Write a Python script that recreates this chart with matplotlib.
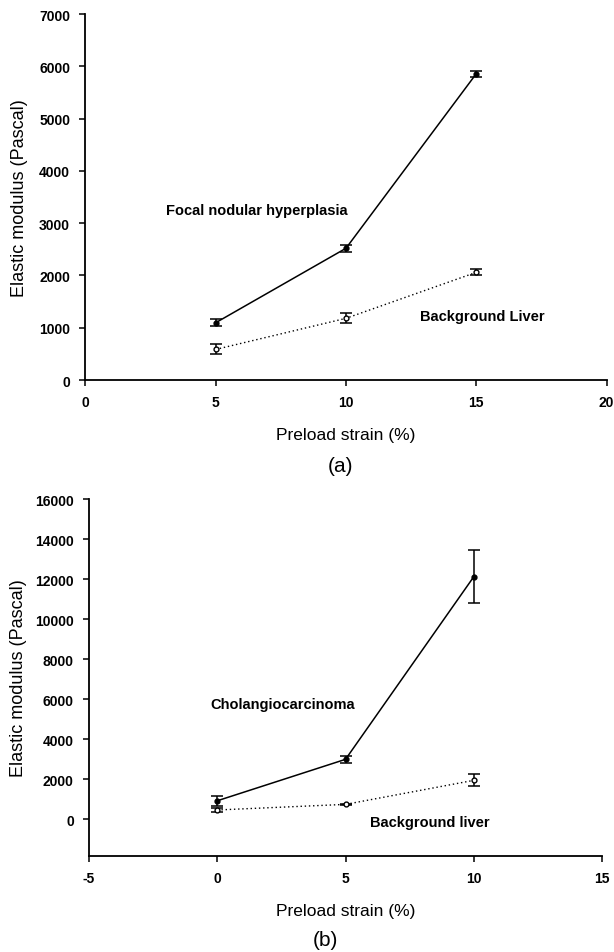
import numpy as np
import matplotlib.pyplot as plt

plt.rcParams['font.family'] = ['Liberation Sans', 'DejaVu Sans']

# panel (a)
strain_a = [5, 10, 15]
fnh = [1095, 2520, 5860]
fnh_err = [65, 70, 55]
liver_a = [585, 1180, 2060]
liver_a_err = [95, 95, 55]

# panel (b)
strain_b = [0, 5, 10]
chol = [930, 3000, 12120]
chol_err = [260, 190, 1310]
liver_b = [470, 750, 1950]
liver_b_err = [90, 30, 300]


def panel(ax, x, y1, e1, y2, e2, ypad):
    ax.errorbar(x, y1, yerr=e1, color='black', lw=1.1, marker='o', ms=3.5,
                mfc='black', capsize=4.3, elinewidth=1.1, capthick=1.1)
    ax.errorbar(x, y2, yerr=e2, color='black', lw=1.0, ls=(0, (1, 2)), marker='o', ms=3.5,
                mfc='white', mec='black', capsize=4.3, elinewidth=1.1, capthick=1.1)
    for s in ['top', 'right']:
        ax.spines[s].set_visible(False)
    ax.spines['left'].set_linewidth(1.3)
    ax.spines['bottom'].set_linewidth(1.3)
    ax.tick_params(direction='out', length=4, width=1.1, labelsize=10)
    ax.tick_params(axis='x', pad=7)
    ax.tick_params(axis='y', pad=7)
    ax.set_xlabel('Preload strain (%)', fontsize=12.5, labelpad=13)
    ax.set_ylabel('Elastic modulus (Pascal)', fontsize=13, labelpad=ypad)


fig = plt.figure(figsize=(6.14, 9.53), dpi=100)

ax1 = fig.add_axes([0.139, 0.6002, 0.849, 0.384])
panel(ax1, strain_a, fnh, fnh_err, liver_a, liver_a_err, 8)
ax1.set_xlim(0, 20)
ax1.set_ylim(0, 7000)
ax1.set_xticks([0, 5, 10, 15, 20])
ax1.set_yticks(np.arange(0, 7001, 1000))
for t in ax1.get_xticklabels() + ax1.get_yticklabels():
    t.set_fontweight('bold')
ax1.text(3.1, 3260, 'Focal nodular hyperplasia', fontsize=10.5, fontweight='bold', va='center')
ax1.text(12.85, 1220, 'Background Liver', fontsize=10.5, fontweight='bold', va='center')
fig.text(0.555, 0.51, '(a)', fontsize=15, ha='center', va='center')

ax2 = fig.add_axes([0.145, 0.1007, 0.8355, 0.3746])
panel(ax2, strain_b, chol, chol_err, liver_b, liver_b_err, 6)
ax2.set_xlim(-5, 15)
ax2.set_ylim(-1830, 16000)
ax2.set_xticks([-5, 0, 5, 10, 15])
ax2.set_xticklabels(['-5', '0', '5', '10', '15'])
ax2.set_yticks(np.arange(0, 16001, 2000))
for t in ax2.get_xticklabels() + ax2.get_yticklabels():
    t.set_fontweight('bold')
ax2.text(-0.28, 5780, 'Cholangiocarcinoma', fontsize=10.5, fontweight='bold', va='center')
ax2.text(5.95, -120, 'Background liver', fontsize=10.5, fontweight='bold', va='center')
fig.text(0.53, 0.0136, '(b)', fontsize=15, ha='center', va='center')

fig.savefig('out.png', dpi=100)
